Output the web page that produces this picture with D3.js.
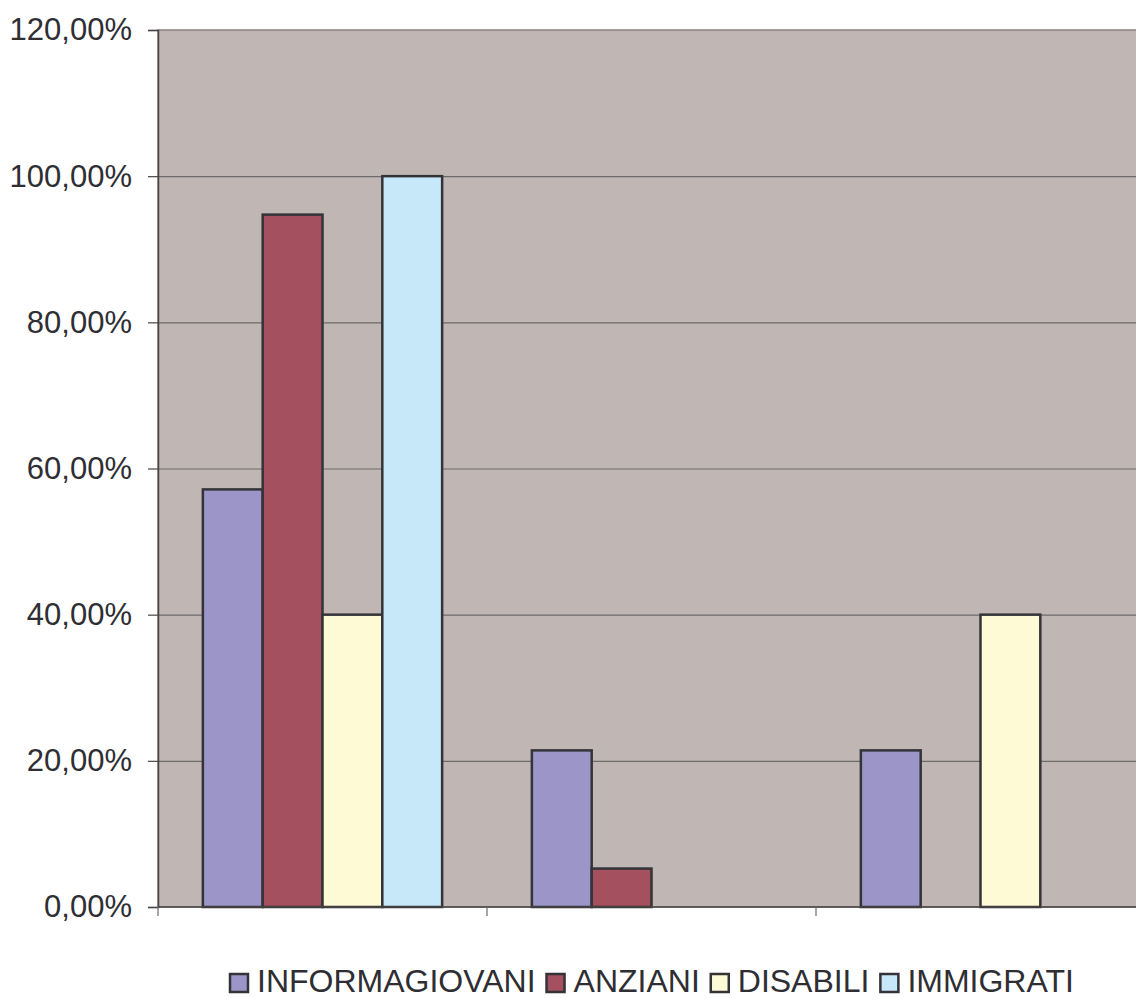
<!DOCTYPE html>
<html>
<head>
<meta charset="utf-8">
<script src="https://d3js.org/d3.v7.min.js"></script>
<style>
  html, body { margin: 0; padding: 0; background: #ffffff; }
  svg { display: block; }
  text { font-family: "Liberation Sans", Arial, sans-serif; fill: #2e2e33; }
</style>
</head>
<body>
<svg id="chart" width="1136" height="999"></svg>
<script>
// Data
const groups = ["G1", "G2", "G3"];
const seriesNames = ["INFORMAGIOVANI", "ANZIANI", "DISABILI", "IMMIGRATI"];
const seriesColors = ["#9c95c8", "#a4505e", "#fffad6", "#c6e8f8"];
const informagiovani = [57.14, 21.43, 21.43];
const anziani = [94.74, 5.26, 0];
const disabili = [40, 0, 40];
const immigrati = [100, 0, 0];
const yTicks = [0, 20, 40, 60, 80, 100, 120];

const seriesValues = [informagiovani, anziani, disabili, immigrati];

(function draw() {
  const svg = d3.select("#chart");
  const mLeft = 158, mTop = 30, mBottom = 907;
  const groupWidth = 329;
  const plotRight = mLeft + groupWidth * groups.length;

  const y = d3.scaleLinear().domain([0, 120]).range([mBottom, mTop]);
  const x = d3.scaleBand().domain(groups).range([mLeft, plotRight]).padding(0);
  // 150% gap between clusters: 4 bars + 1.5 bar widths fill a group
  const barW = x.bandwidth() / 5.5;
  const barOffset = 0.75 * barW;

  // plot area background
  svg.append("rect")
    .attr("x", mLeft).attr("y", mTop)
    .attr("width", plotRight - mLeft).attr("height", mBottom - mTop)
    .attr("fill", "#c0b7b4")
    .attr("stroke", "#8c8380").attr("stroke-width", 1.5);

  // horizontal gridlines
  svg.append("g").selectAll("line")
    .data(yTicks.filter(t => t > 0 && t < 120))
    .join("line")
    .attr("x1", mLeft).attr("x2", plotRight)
    .attr("y1", d => y(d) + 0.5).attr("y2", d => y(d) + 0.5)
    .attr("stroke", "#6e6a6a").attr("stroke-width", 1.2);

  // bars
  const barsG = svg.append("g");
  seriesValues.forEach((vals, si) => {
    barsG.selectAll(null)
      .data(groups.map((g, gi) => ({ g, v: vals[gi] })).filter(d => d.v > 0))
      .join("rect")
      .attr("x", d => x(d.g) + barOffset + si * barW)
      .attr("y", d => y(d.v))
      .attr("width", barW)
      .attr("height", d => y(0) - y(d.v))
      .attr("fill", seriesColors[si])
      .attr("stroke", "#333338")
      .attr("stroke-width", 2.5);
  });

  // y axis
  const fmt = v => v.toFixed(2).replace(".", ",") + "%";
  const yAxis = d3.axisLeft(y).tickValues(yTicks).tickSize(10).tickPadding(16).tickFormat(fmt);
  const yg = svg.append("g").attr("transform", `translate(${mLeft},0)`).call(yAxis);
  yg.select(".domain").attr("stroke", "#4a4444").attr("stroke-width", 1.5);
  yg.selectAll(".tick line").attr("stroke", "#4a4444").attr("stroke-width", 1.2);
  yg.selectAll(".tick text")
    .attr("font-size", 31)
    .attr("fill", "#2e2e33")
    .style("font-family", "'Liberation Sans', Arial, sans-serif");

  // x axis (category ticks at group boundaries, no labels)
  const xg = svg.append("g");
  xg.append("line")
    .attr("x1", mLeft).attr("x2", plotRight)
    .attr("y1", mBottom).attr("y2", mBottom)
    .attr("stroke", "#4a4444").attr("stroke-width", 1.5);
  xg.selectAll(".xt")
    .data(groups)
    .join("line")
    .attr("class", "xt")
    .attr("x1", d => x(d)).attr("x2", d => x(d))
    .attr("y1", mBottom).attr("y2", mBottom + 9)
    .attr("stroke", "#6e6a6a").attr("stroke-width", 1.2);

  // legend: swatch + label, laid out left to right by measured text width
  const lg = svg.append("g");
  let cx = 230;
  seriesNames.forEach((name, i) => {
    lg.append("rect")
      .attr("x", cx).attr("y", 974)
      .attr("width", 18).attr("height", 18)
      .attr("fill", seriesColors[i])
      .attr("stroke", "#333338").attr("stroke-width", 2.5);
    const t = lg.append("text")
      .attr("x", cx + 27).attr("y", 992)
      .attr("font-size", 32)
      .text(name);
    cx += 27 + t.node().getComputedTextLength() + 11;
  });
})();
</script>
</body>
</html>
